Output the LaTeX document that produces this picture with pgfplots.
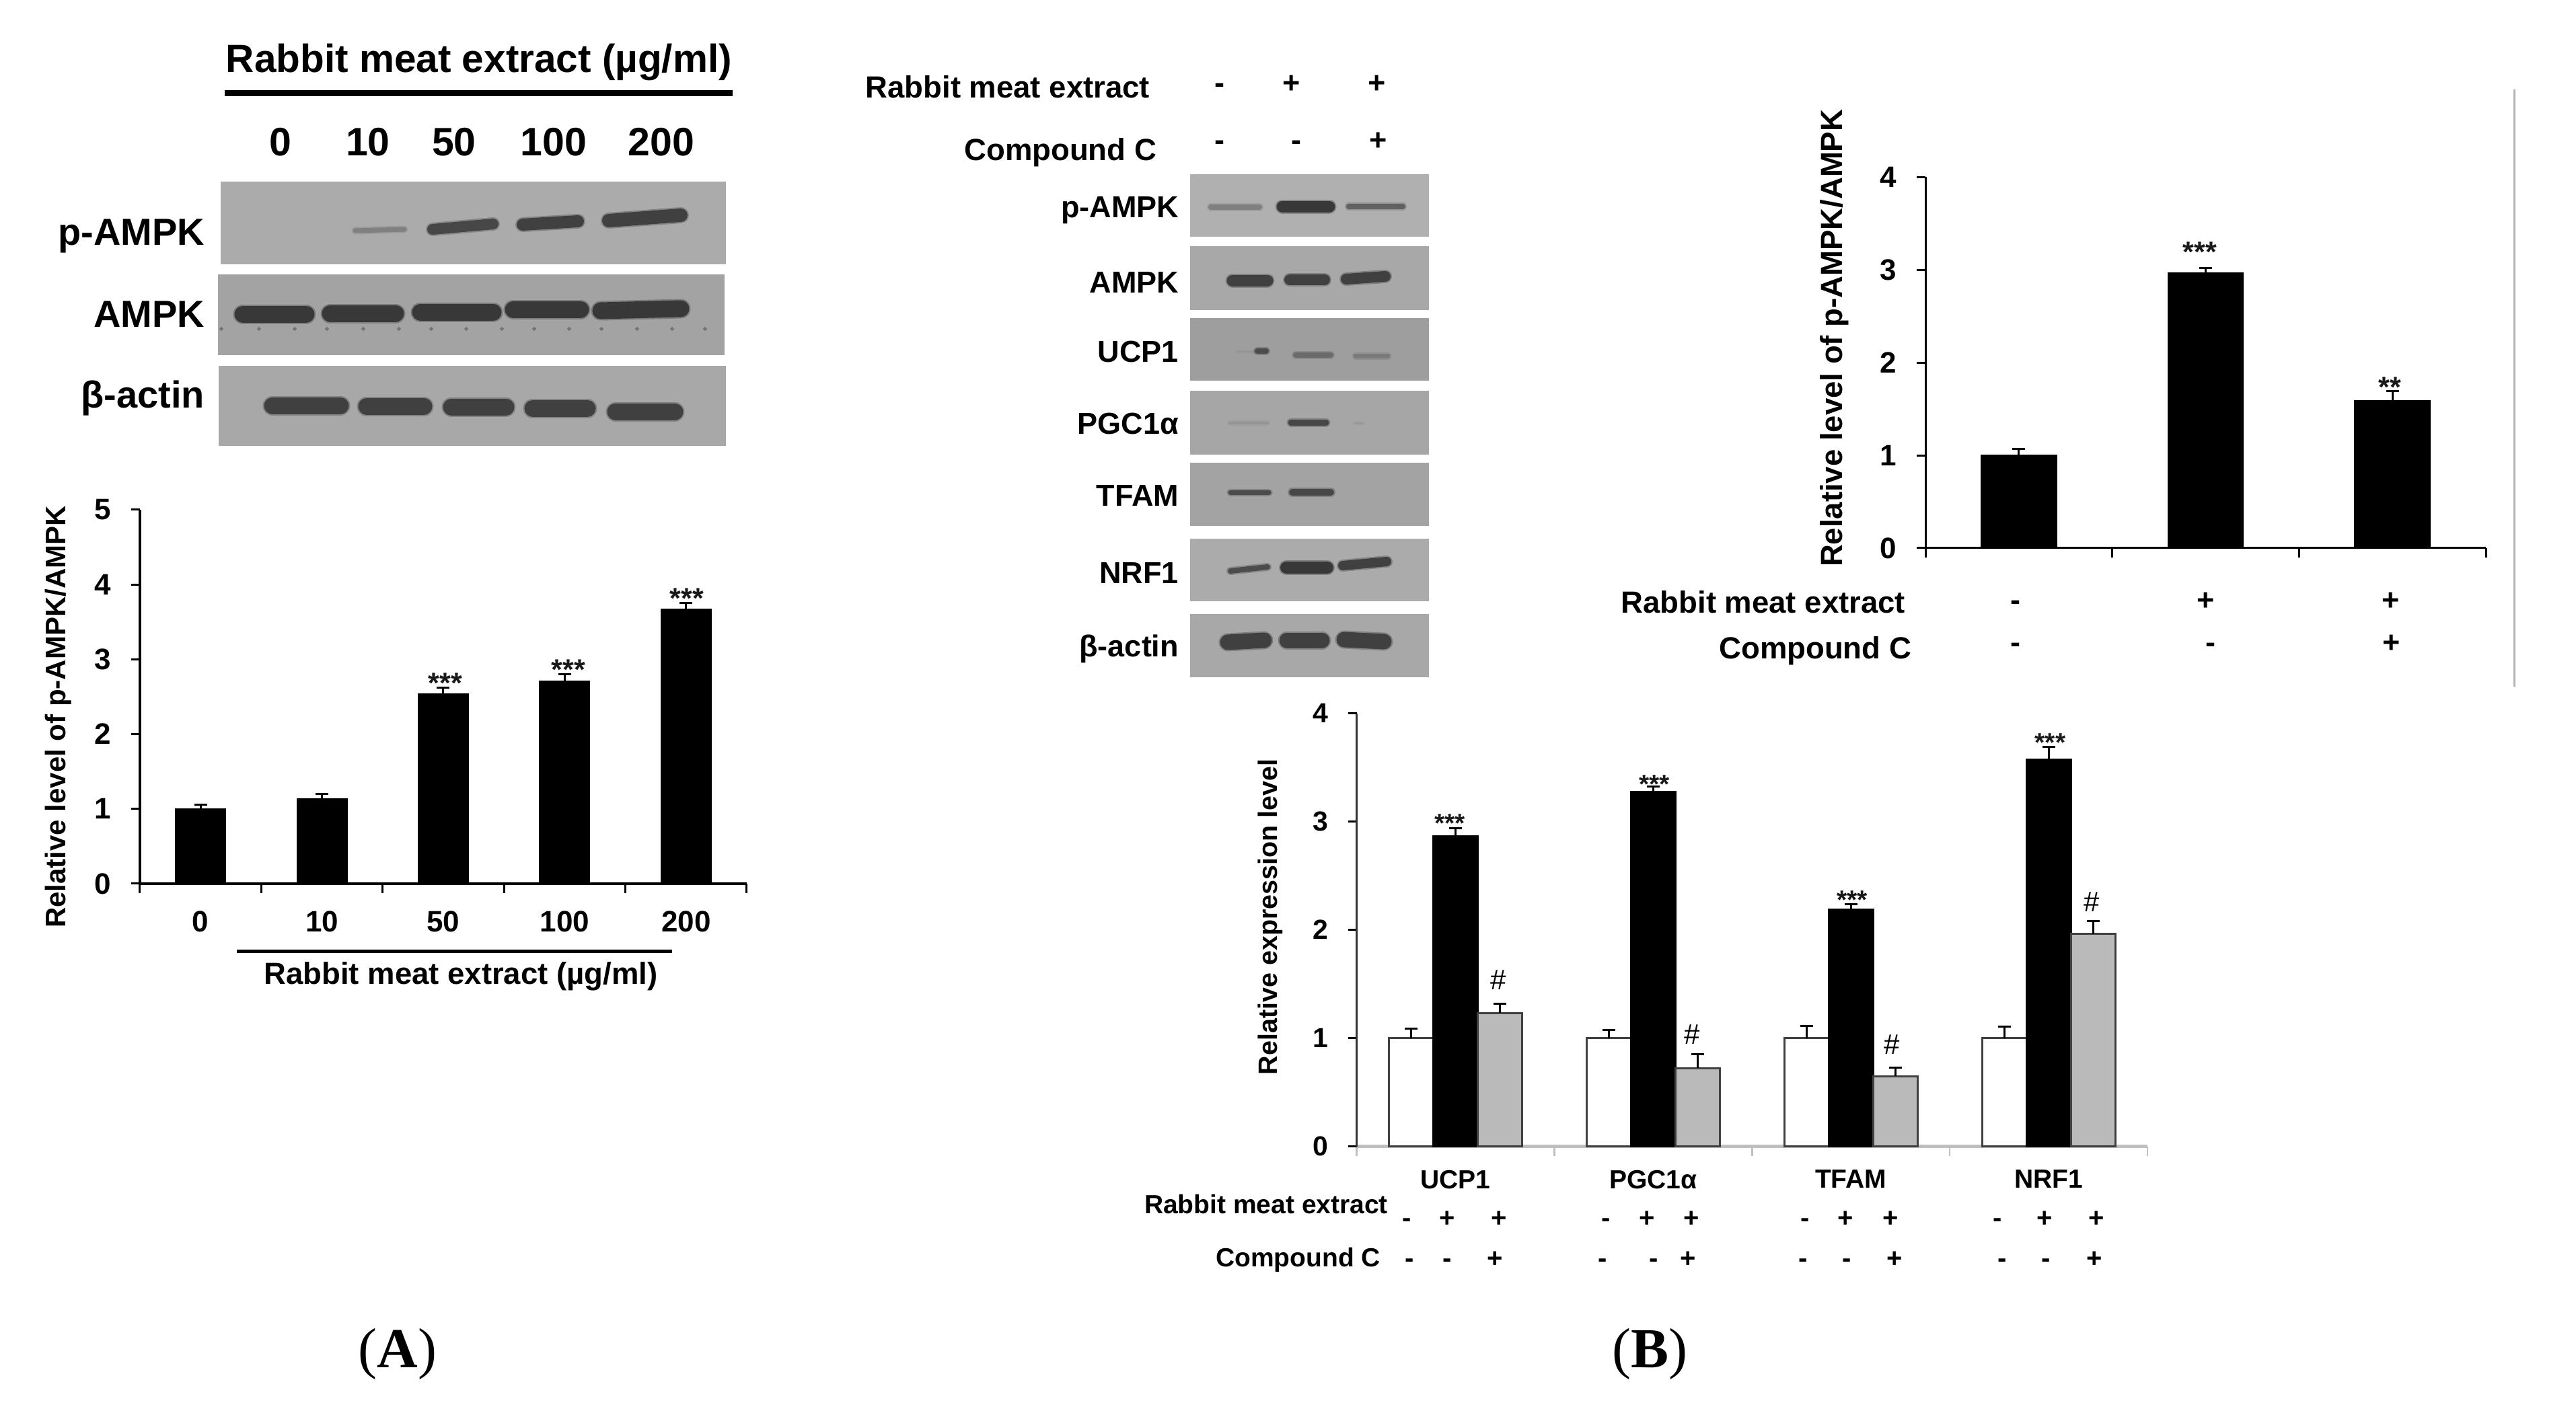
\documentclass[border=0pt]{standalone}
\usepackage{fontspec}
\setmainfont{Liberation Sans}
\newfontfamily\serif{Liberation Serif}
\usepackage{pgfplots}
\pgfplotsset{compat=1.18}

% everything is measured in reference pixels, 1 px = 0.2pt
\newcommand{\rt}[4]{\node[anchor=base east,inner sep=0pt,font=\bfseries\fontsize{#3}{#3}\selectfont,yshift={-0.358*#3pt}] at (axis cs:#1,#2) {#4};}
\newcommand{\ct}[4]{\node[anchor=base,inner sep=0pt,font=\bfseries\fontsize{#3}{#3}\selectfont,yshift={-0.358*#3pt}] at (axis cs:#1,#2) {#4};}
\newcommand{\st}[3]{\node[anchor=base,inner sep=0pt,text=black!90,font=\bfseries\fontsize{#3}{#3}\selectfont,yshift={-0.58*#3pt}] at (axis cs:#1,#2) {***};}
\newcommand{\sst}[3]{\node[anchor=base,inner sep=0pt,text=black!90,font=\bfseries\fontsize{#3}{#3}\selectfont,yshift={-0.58*#3pt}] at (axis cs:#1,#2) {**};}
\newcommand{\blot}[5]{\addplot[fill=#1,draw=none] coordinates {(#2,#3)(#4,#3)(#4,#5)(#2,#5)} --cycle;}
% a band: soft halo, then the core
\newcommand{\band}[6]{%
  \addplot[color=#1,opacity=0.35,line width=(#2+3)*0.2pt,line cap=round] coordinates {(#3,#4)(#5,#6)};
  \addplot[color=#1,line width=(#2-1)*0.2pt,line cap=round] coordinates {(#3,#4)(#5,#6)};}

\pgfplotsset{
  barchart/.style={
    scale only axis, ybar, ymin=0,
    axis lines*=left,
    axis line style={black,line width=0.7pt},
    tick align=outside,
    major tick length=2.6pt,
    minor tick length=2.8pt,
    major x tick style={draw=none},
    minor x tick style={black,line width=0.6pt},
    ytick style={black,line width=0.6pt},
    /pgf/number format/assume math mode=true,
    xticklabel style={yshift=-2pt},
    yticklabel style={xshift=-2.4pt},
    error bars/y dir=plus, error bars/y explicit,
    error bars/error bar style={black,line width=0.6pt},
    error bars/error mark options={rotate=90,black,mark size=1.9pt,line width=0.6pt},
    clip=false,
  },
}

\begin{document}
\begin{tikzpicture}
\path[use as bounding box] (0,0) rectangle (765.8pt,420.6pt);

% page-sized axis in pixels: blots, row labels, signs, stars
\begin{axis}[at={(0,0)},anchor=south west,scale only axis,width=765.8pt,height=420.6pt,
  hide axis,clip=false,xmin=0,xmax=3829,ymin=0,ymax=2103,y dir=reverse]

% panel A blots
\blot{black!33}{327.5}{270}{1079}{393}
\blot{black!36}{324}{408}{1077}{528}
\blot{black!34}{325}{544}{1079}{663}
\band{black!50}{8}{528}{343}{601}{341}
\band{black!72}{17}{643}{341}{733}{333}
\band{black!75}{19}{777}{334}{859}{329}
\band{black!75}{21}{905}{328}{1012}{320}
\band{black!78}{26}{361}{467}{455}{467}
\band{black!78}{26}{491}{466}{588}{466}
\band{black!78}{26}{625}{464}{733}{464}
\band{black!78}{26}{763}{460}{863}{460}
\band{black!78}{26}{893}{462}{1012}{459}
\addplot[only marks,mark=*,mark size=0.35pt,color=black!55] coordinates {
  (329,489)(385,489)(438,489)(486,489)(540,489)(593,489)(641,489)(693,489)
  (746,489)(794,489)(846,489)(894,489)(947,489)(999,489)(1048,489)};
\band{black!75}{26}{405}{603}{506}{603}
\band{black!75}{26}{545}{604}{630}{604}
\band{black!75}{26}{671}{605}{752}{605}
\band{black!75}{26}{792}{607}{873}{607}
\band{black!75}{26}{915}{612}{1003}{612}

\ct{712}{87}{11.7}{Rabbit meat extract (µg/ml)}
\addplot[black,line width=1.8pt] coordinates {(334,138)(1089,138)};
\ct{417}{210}{11.8}{0}
\ct{547}{210}{11.8}{10}
\ct{675}{210}{11.8}{50}
\ct{823}{210}{11.8}{100}
\ct{983}{210}{11.8}{200}
\rt{305}{344}{11.2}{p-AMPK}
\rt{305}{466}{11.2}{AMPK}
\rt{305}{586}{11.2}{β-actin}

% panel A chart extras
\addplot[black,line width=1pt] coordinates {(352,1414)(999,1414)};
\ct{685}{1447}{9.1}{Rabbit meat extract (µg/ml)}
\st{662}{1006}{8.6}
\st{845}{986}{8.6}
\st{1021}{880}{8.6}

% panel B blots
\blot{black!31}{1769}{259}{2124}{352}
\blot{black!34}{1769}{366}{2124}{461}
\blot{black!38}{1769}{472.5}{2124}{566}
\blot{black!35}{1769}{581}{2124}{676}
\blot{black!36}{1769}{688}{2124}{782}
\blot{black!33}{1769}{801}{2124}{894}
\blot{black!34}{1769}{913}{2124}{1007}
\band{black!50}{9}{1800}{307.5}{1872}{307.5}
\band{black!78}{18}{1906}{307}{1976}{307}
\band{black!62}{9}{2005}{307}{2085}{307}
\band{black!75}{18}{1832}{417}{1884}{417}
\band{black!75}{17}{1917}{416}{1969}{416}
\band{black!75}{17}{2001}{415}{2059}{411}
\band{black!42}{3}{1840}{523}{1865}{523}
\band{black!70}{9}{1869}{522}{1882}{522}
\band{black!58}{9}{1926}{527.5}{1978}{527.5}
\band{black!52}{8}{2015}{529}{2063}{529}
\band{black!42}{5}{1828}{629}{1884}{629}
\band{black!72}{10}{1919}{628}{1971}{628}
\band{black!40}{4}{2014}{629}{2025}{629}
\band{black!70}{8}{1829}{732}{1886}{732}
\band{black!72}{11}{1921}{732}{1978}{732}
\band{black!70}{9}{1829}{849}{1884}{843}
\band{black!78}{19}{1912}{844}{1973}{844}
\band{black!75}{15}{1996}{841}{2061}{835}
\band{black!75}{24}{1825}{955}{1879}{952}
\band{black!75}{24}{1913}{952}{1965}{952}
\band{black!75}{24}{1998}{951}{2057}{954}

\rt{1710}{129}{9.1}{Rabbit meat extract}
\rt{1720}{222}{9.1}{Compound C}
\ct{1813}{122}{9}{-} \ct{1920}{122}{9}{+} \ct{2047}{122}{9}{+}
\ct{1813}{207}{9}{-} \ct{1927}{207}{9}{-} \ct{2049}{207}{9}{+}
\rt{1753}{307}{9}{p-AMPK}
\rt{1753}{419}{9}{AMPK}
\rt{1753}{522}{9}{UCP1}
\rt{1753}{629}{9}{PGC1α}
\rt{1753}{736}{9}{TFAM}
\rt{1753}{851}{9}{NRF1}
\rt{1753}{960}{9}{β-actin}

% top right chart extras
\addplot[color=black!30,line width=0.6pt] coordinates {(3737.6,133)(3737.6,1021)};
\st{3270}{365}{8.6}
\sst{3552}{566}{8.6}
\rt{2833}{895}{9.1}{Rabbit meat extract}
\rt{2842}{963}{9.1}{Compound C}
\ct{2996}{891}{9}{-} \ct{3279}{891}{9}{+} \ct{3554}{891}{9}{+}
\ct{2996}{954}{9}{-} \ct{3286}{954}{9}{-} \ct{3555}{954}{9}{+}

% bottom chart extras
\st{2155}{1215}{7.8}
\st{2459}{1157}{7.8}
\st{2753}{1329}{7.8}
\st{3047.5}{1094.5}{7.8}
\ct{2227}{1456.6}{8.4}{\mdseries\#}
\ct{2515}{1537.5}{8.4}{\mdseries\#}
\ct{2812}{1552}{8.4}{\mdseries\#}
\ct{3109}{1340}{8.4}{\mdseries\#}
\rt{2064}{1791}{7.8}{Rabbit meat extract}
\rt{2053}{1870}{7.8}{Compound C}
\ct{2091}{1810}{8}{-} \ct{2151}{1810}{8}{+} \ct{2228}{1810}{8}{+}
\ct{2387}{1810}{8}{-} \ct{2448}{1810}{8}{+} \ct{2514}{1810}{8}{+}
\ct{2683}{1810}{8}{-} \ct{2743}{1810}{8}{+} \ct{2810}{1810}{8}{+}
\ct{2969}{1810}{8}{-} \ct{3039}{1810}{8}{+} \ct{3116}{1810}{8}{+}
\ct{2095}{1870}{8}{-} \ct{2151}{1870}{8}{-} \ct{2222}{1870}{8}{+}
\ct{2382}{1870}{8}{-} \ct{2458}{1870}{8}{-} \ct{2509}{1870}{8}{+}
\ct{2680}{1870}{8}{-} \ct{2745}{1870}{8}{-} \ct{2816}{1870}{8}{+}
\ct{2976}{1870}{8}{-} \ct{3041}{1870}{8}{-} \ct{3113}{1870}{8}{+}

% figure letters
\ct{591}{2003}{16.8}{\serif\mdseries(\textbf{A})}
\ct{2452}{2003}{16.8}{\serif\mdseries(\textbf{B})}
\end{axis}

% panel A chart
\begin{axis}[barchart,at={(41.6pt,157.8pt)},anchor=south west,
  width=180.4pt,height=111.2pt,
  bar width=14.8pt,xmin=-0.5,xmax=4.5,ymax=5,
  xtick={0,1,2,3,4},xticklabels={0,10,50,100,200},
  minor xtick={-0.5,0.5,1.5,2.5,3.5,4.5},
  ytick={0,1,2,3,4,5},
  tick label style={font=\bfseries\fontsize{8.8}{8.8}\selectfont},
  ylabel={Relative level of p-AMPK/AMPK},
  every axis y label/.append style={at={(axis description cs:-0.135,0.446)},anchor=center,
    font=\bfseries\fontsize{8.4}{8.4}\selectfont}]
\addplot[fill=black,draw=black,line width=0.4pt] coordinates {
  (0,1.00) +- (0,0.055)
  (1,1.13) +- (0,0.067)
  (2,2.54) +- (0,0.08)
  (3,2.71) +- (0,0.09)
  (4,3.67) +- (0,0.086)};
\end{axis}

% top right chart
\begin{axis}[barchart,at={(572.4pt,257.6pt)},anchor=south west,
  width=166.6pt,height=110.3pt,
  bar width=22.3pt,xmin=-0.5,xmax=2.5,ymax=4,
  xtick={0,1,2},xticklabels={,,},
  minor xtick={-0.5,0.5,1.5,2.5},
  ytick={0,1,2,3,4},
  axis line style={black,line width=0.6pt},
  tick label style={font=\bfseries\fontsize{8.8}{8.8}\selectfont},
  ylabel={Relative level of p-AMPK/AMPK},
  every axis y label/.append style={at={(axis description cs:-0.163,0.566)},anchor=center,
    font=\bfseries\fontsize{9.1}{9.1}\selectfont}]
\addplot[fill=black,draw=black,line width=0.4pt] coordinates {
  (0,1.00) +- (0,0.07)
  (1,2.97) +- (0,0.05)
  (2,1.59) +- (0,0.10)};
\end{axis}

% bottom chart
\begin{axis}[barchart,at={(403.3pt,79.7pt)},anchor=south west,
  width=235.1pt,height=128.8pt,
  ybar=0pt,bar width=13.2pt,xmin=-0.5,xmax=3.5,ymax=4,
  xtick={0,1,2,3},xticklabels={UCP1,PGC1α,TFAM,NRF1},
  xticklabel style={yshift=1pt},
  minor xtick={-0.5,0.5,1.5,2.5,3.5},
  ytick={0,1,2,3,4},
  axis line style={black!25,line width=0.9pt},
  y axis line style={black!80,line width=0.6pt},
  minor x tick style={black!25,line width=0.5pt},
  tick label style={font=\bfseries\fontsize{7.8}{7.8}\selectfont},
  yticklabel style={font=\bfseries\fontsize{8.2}{8.2}\selectfont},
  ylabel={Relative expression level},
  every axis y label/.append style={at={(axis description cs:-0.109,0.530)},anchor=center,
    font=\bfseries\fontsize{7.9}{7.9}\selectfont}]
\addplot[fill=white,draw=black!75,line width=0.6pt] coordinates {
  (0,1.00) +- (0,0.086)
  (1,1.00) +- (0,0.075)
  (2,1.00) +- (0,0.111)
  (3,1.00) +- (0,0.104)};
\addplot[fill=black,draw=black,line width=0.6pt] coordinates {
  (0,2.863) +- (0,0.073)
  (1,3.271) +- (0,0.055)
  (2,2.186) +- (0,0.047)
  (3,3.570) +- (0,0.120)};
\addplot[fill=black!27,draw=black!75,line width=0.6pt] coordinates {
  (0,1.231) +- (0,0.084)
  (1,0.721) +- (0,0.128)
  (2,0.648) +- (0,0.081)
  (3,1.960) +- (0,0.120)};
\end{axis}
\end{tikzpicture}
\end{document}
